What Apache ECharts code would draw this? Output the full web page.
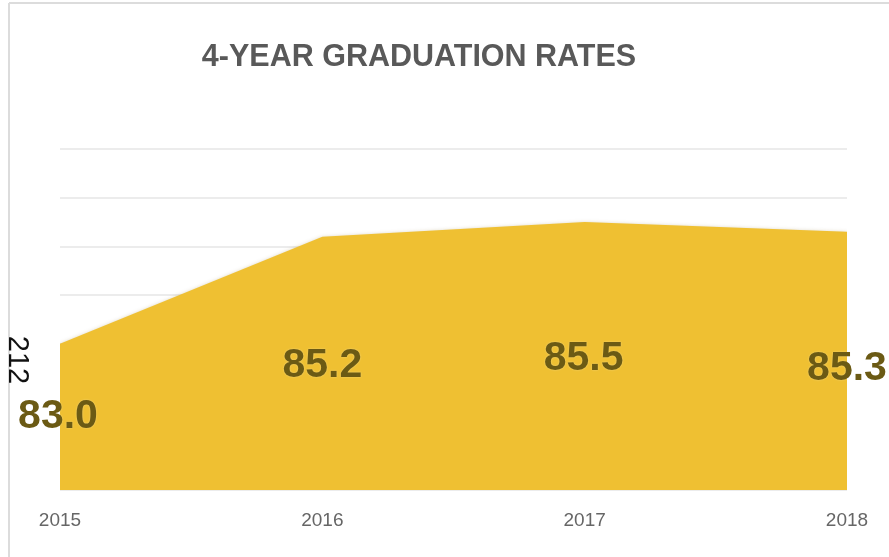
<!DOCTYPE html>
<html>
<head>
<meta charset="utf-8">
<title>4-Year Graduation Rates</title>
<script src="https://cdn.jsdelivr.net/npm/echarts@6/dist/echarts.min.js"></script>
<style>
  html, body { margin: 0; padding: 0; background: #ffffff; }
  #chart { width: 889px; height: 557px; }
</style>
</head>
<body>
<div id="chart"></div>
<script>
// Graduation rate by cohort year
var years = ['2015', '2016', '2017', '2018'];
var rates = [83.0, 85.2, 85.5, 85.3];
var labelOffsets = [[-2, 73], [0, 129], [-1, 137], [0, 137]];
var sideNote = '212';

var chart = echarts.init(document.getElementById('chart'));

var seriesData = rates.map(function (v, i) {
  return {
    value: v,
    label: { offset: labelOffsets[i] }
  };
});

chart.setOption({
  backgroundColor: '#ffffff',
  animation: false,
  title: {
    text: '4-YEAR GRADUATION RATES',
    left: 414,
    top: 37,
    textAlign: 'center',
    textStyle: {
      fontFamily: '"Liberation Sans", sans-serif',
      fontWeight: 'bold',
      fontSize: 30.5,
      color: '#595959'
    }
  },
  grid: { left: 60, right: 42, top: 149, bottom: 67 },
  xAxis: {
    type: 'category',
    data: years,
    boundaryGap: false,
    axisLine: { show: false },
    axisTick: { show: false },
    axisLabel: {
      margin: 21,
      fontFamily: '"Liberation Sans", sans-serif',
      fontSize: 19,
      color: '#666666'
    }
  },
  yAxis: {
    type: 'value',
    min: 80,
    max: 87,
    interval: 1,
    axisLabel: { show: false },
    axisLine: { show: false },
    axisTick: { show: false },
    splitLine: { lineStyle: { color: '#e6e6e6', width: 1.5 } }
  },
  series: [{
    type: 'line',
    data: seriesData,
    symbol: 'circle',
    symbolSize: 1,
    itemStyle: { color: 'rgba(0,0,0,0)' },
    lineStyle: { width: 0 },
    areaStyle: {
      color: '#EFC032',
      opacity: 1,
      shadowColor: 'rgba(120,90,0,0.35)',
      shadowBlur: 4,
      shadowOffsetY: 1
    },
    label: {
      show: true,
      position: 'inside',
      formatter: function (p) { return p.value.toFixed(1); },
      fontFamily: '"Liberation Sans", sans-serif',
      fontSize: 41,
      fontWeight: 'bold',
      color: '#6B5A14',
      textShadowColor: 'rgba(255,255,255,0.35)',
      textShadowBlur: 2
    }
  }],
  graphic: [
    {
      type: 'line',
      shape: { x1: 9, y1: 3, x2: 9, y2: 557 },
      style: { stroke: '#dcdcdc', lineWidth: 2 }
    },
    {
      type: 'line',
      shape: { x1: 9, y1: 3, x2: 889, y2: 3 },
      style: { stroke: '#dcdcdc', lineWidth: 2 }
    },
    {
      type: 'text',
      x: 17,
      y: 360,
      rotation: -Math.PI / 2,
      style: {
        text: sideNote,
        x: 0,
        y: 0,
        align: 'center',
        verticalAlign: 'middle',
        font: '29px "Liberation Sans", sans-serif',
        fill: '#111111'
      }
    }
  ]
});
</script>
</body>
</html>
